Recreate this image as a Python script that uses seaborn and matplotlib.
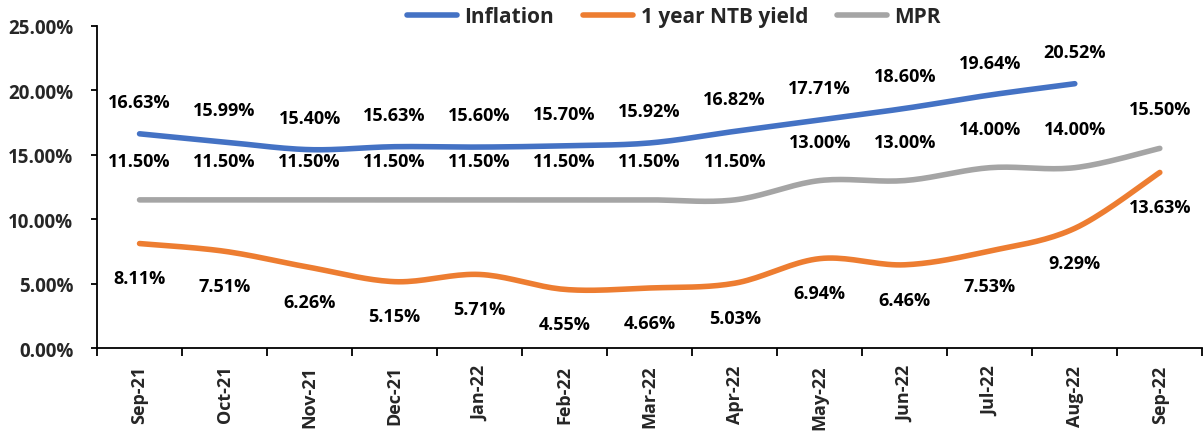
import numpy as np
import pandas as pd
import matplotlib
matplotlib.use("Agg")
import matplotlib.pyplot as plt
import seaborn as sns
from matplotlib.ticker import FuncFormatter

months = ["Sep-21", "Oct-21", "Nov-21", "Dec-21", "Jan-22", "Feb-22", "Mar-22",
          "Apr-22", "May-22", "Jun-22", "Jul-22", "Aug-22", "Sep-22"]
inflation = [16.63, 15.99, 15.40, 15.63, 15.60, 15.70, 15.92, 16.82, 17.71, 18.60, 19.64, 20.52, None]
ntb = [8.11, 7.51, 6.26, 5.15, 5.71, 4.55, 4.66, 5.03, 6.94, 6.46, 7.53, 9.29, 13.63]
mpr = [11.50, 11.50, 11.50, 11.50, 11.50, 11.50, 11.50, 11.50, 13.00, 13.00, 14.00, 14.00, 15.50]
series_names = ["Inflation", "1 year NTB yield", "MPR"]
colors = ["#4472C4", "#ED7D31", "#A5A5A5"]

sns.set_theme(style="white")
plt.rcParams['font.family'] = ['Open Sans', 'DejaVu Sans']
plt.rcParams['font.weight'] = 'bold'


def smooth(xs, ys, n=20):
    """Excel-like smoothed curve (Catmull-Rom Bezier) through the given points."""
    xs = np.asarray(xs, float)
    ys = np.asarray(ys, float)
    outx, outy = [], []
    m = len(xs)
    for i in range(m - 1):
        p0 = (xs[max(i - 1, 0)], ys[max(i - 1, 0)])
        p1 = (xs[i], ys[i])
        p2 = (xs[i + 1], ys[i + 1])
        p3 = (xs[min(i + 2, m - 1)], ys[min(i + 2, m - 1)])
        c1 = (p1[0] + (p2[0] - p0[0]) / 6, p1[1] + (p2[1] - p0[1]) / 6)
        c2 = (p2[0] - (p3[0] - p1[0]) / 6, p2[1] - (p3[1] - p1[1]) / 6)
        t = np.linspace(0, 1, n, endpoint=(i == m - 2))
        bx = (1 - t) ** 3 * p1[0] + 3 * (1 - t) ** 2 * t * c1[0] + 3 * (1 - t) * t ** 2 * c2[0] + t ** 3 * p2[0]
        by = (1 - t) ** 3 * p1[1] + 3 * (1 - t) ** 2 * t * c1[1] + 3 * (1 - t) * t ** 2 * c2[1] + t ** 3 * p2[1]
        outx.extend(bx)
        outy.extend(by)
    return np.array(outx), np.array(outy)


fig = plt.figure(figsize=(12.04, 4.39), dpi=100)
ax = fig.add_axes([0.0806, 0.205, 0.918, 0.7335])

label_offsets = [(0, 23), (0, -25), (0, 28)]
all_series = [inflation, ntb, mpr]
for name, vals, col, off in zip(series_names, all_series, colors, label_offsets):
    idx = [i for i, v in enumerate(vals) if v is not None]
    yv = [vals[i] for i in idx]
    sx, sy = smooth(idx, yv)
    df = pd.DataFrame({"x": sx, "y": sy})
    sns.lineplot(data=df, x="x", y="y", ax=ax, color=col, linewidth=4,
                 sort=False, label=name, solid_capstyle="round")
    for i, v in zip(idx, yv):
        ax.annotate(f"{v:.2f}%", (i, v), xytext=off, textcoords="offset points",
                    ha="center", va="center", fontsize=13, fontweight="bold", color="black")

ax.set_xlim(-0.5, len(months) - 0.5)
ax.set_ylim(0, 25)
ax.set_yticks([0, 5, 10, 15, 20, 25])
ax.yaxis.set_major_formatter(FuncFormatter(lambda v, p: f"{v:.2f}%"))
ax.set_xticks(range(len(months)))
ax.set_xticklabels(months, rotation=90, fontsize=13, fontweight="bold")
ax.set_xticks(np.arange(-0.5, len(months), 1), minor=True)
ax.tick_params(axis="x", which="major", length=0, pad=12)
ax.tick_params(axis="x", which="minor", length=6, width=1.3, color="black", direction="out", bottom=True)
ax.tick_params(axis="y", which="major", length=4, width=1.3, color="black", direction="out", left=True,
               labelsize=13.5, pad=13)
for lab in ax.get_yticklabels():
    lab.set_fontweight("bold")
ax.set_xlabel("")
ax.set_ylabel("")
for s in ["top", "right"]:
    ax.spines[s].set_visible(False)
for s in ["left", "bottom"]:
    ax.spines[s].set_color("black")
    ax.spines[s].set_linewidth(1.3)

leg = ax.legend(loc="center", bbox_to_anchor=(0.522, 1.028), ncol=3, frameon=False,
                prop={"weight": "bold", "size": 15}, handlelength=2.4, columnspacing=1.4,
                handletextpad=0.35, borderpad=0, borderaxespad=0)
for line in leg.get_lines():
    line.set_linewidth(4)

fig.savefig("out.png", dpi=100)
